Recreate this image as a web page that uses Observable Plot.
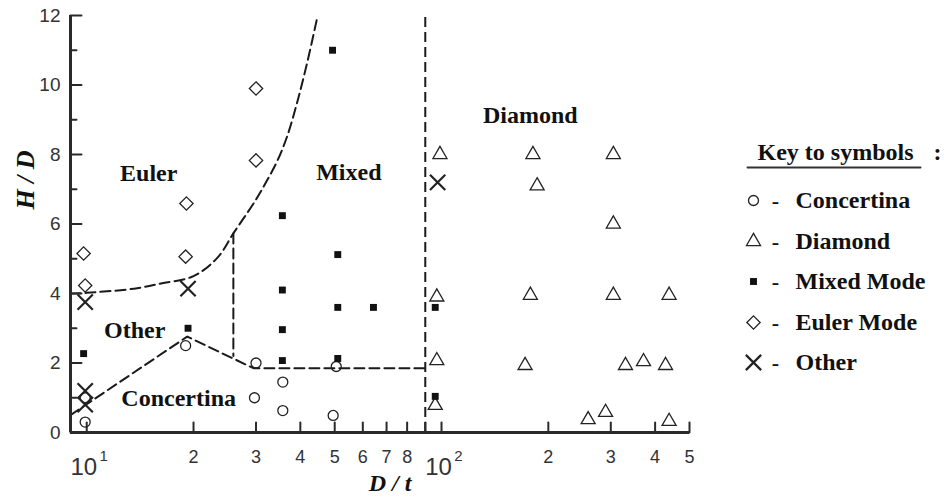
<!DOCTYPE html>
<html><head><meta charset="utf-8">
<script src="https://cdn.jsdelivr.net/npm/d3@7"></script>
<script src="https://cdn.jsdelivr.net/npm/@observablehq/plot@0.6"></script>
<style>body{margin:0;background:#fff} svg{display:block}</style>
</head><body><div id="chart"></div>
<script>
// ---- data (D/t, H/D) ----
const concertina = [[9.9,1.0],[9.9,0.3],[19.0,2.5],[30,2.0],[29.7,1.0],[35.7,1.45],[35.7,0.63],[49.5,0.49],[50.5,1.9]];
const diamondMode = [[99,8.0],[181,8.0],[305,8.0],[186,7.1],[305,6.0],[97,3.9],[178,3.95],[305,3.95],[438,3.95],
  [97,2.07],[172,1.93],[330,1.93],[371,2.04],[428,1.93],[96,0.78],[259,0.37],[290,0.58],[438,0.32]];
const mixedMode = [[49.3,11.0],[35.6,6.24],[35.6,4.1],[35.6,2.96],[35.6,2.07],[9.8,2.27],[19.3,3.0],[51,5.12],
  [51,3.6],[64.3,3.6],[51,2.13],[96,3.6],[96,1.04]];
const eulerMode = [[30,9.9],[30,7.83],[19.1,6.59],[9.8,5.15],[19,5.06],[9.9,4.23]];
const otherMode = [[9.9,3.75],[19.3,4.14],[9.9,1.2],[9.9,0.8],[97.5,7.2]];

// boundaries
const eulerBoundary = [[9,4.0],[10,4.02],[13.6,4.14],[16.2,4.29],[20,4.5],[23.4,5.04],[25.9,5.73],[29.9,6.68],[32.1,7.22],[34.5,7.83],[36.8,8.55],[39.3,9.55],[41.9,10.68],[44.7,11.97]];
const concertinaBoundary = [[9,0.5],[19.2,2.76],[29.5,1.85],[90,1.85]];
const otherBoundary = [[25.9,5.73],[25.9,2.2]];
const diamondBoundary = [90];

// region labels (data coordinates)
const regionNames = ["Euler","Mixed","Diamond","Other","Concertina"];
const regionX = [14.95,54.8,178,13.65,18.16];
const regionY = [7.45,7.48,9.12,2.94,0.98];

// axes
const yMajor = [0,2,4,6,8,10,12];
const yMinor = [1,3,5,7,9,11];
const xTicks = [10,20,30,40,50,60,70,80,90,100,200,300,400,500];
const xDigitTicks = [20,30,40,50,60,70,80,200,300,400,500];
const xDigitLabels = ["2","3","4","5","6","7","8","2","3","4","5"];
const xDecades = [10,100];
const xDecadeExp = ["1","2"];

// legend
const legendTitle = "Key to symbols";
const legendNames = ["Concertina","Diamond","Mixed Mode","Euler Mode","Other"];
const legendSymbols = ["circle","triangle","square","diamond2","times"];

const serif = "'Liberation Serif','Times New Roman',serif";
const sans = "'Liberation Sans',Arial,sans-serif";
const tickShape = {draw(ctx, l){ctx.moveTo(0,0); ctx.lineTo(0,-l);}};
const dash = "10,5";
const lineStyle = {stroke:"#1a1a1a", strokeWidth:2, strokeDasharray:dash};
const bold = {fontFamily:serif, fontWeight:"bold", fill:"#111", lineAnchor:"middle"};

const symStyle = {
  circle: {r:5, stroke:"#222", strokeWidth:1.3, fill:"none"},
  triangle: {r:5.2, stroke:"#222", strokeWidth:1.3, fill:"none"},
  square: {r:3.9, fill:"#111", stroke:"none"},
  diamond2: {r:6, stroke:"#222", strokeWidth:1.3, fill:"none"},
  times: {r:7, stroke:"#222", strokeWidth:2.2, fill:"none"}
};

const legendRowDy = [185,226,266,307,347];
const legendMarks = [];
legendNames.forEach((name, i) => {
  const s = legendSymbols[i];
  legendMarks.push(Plot.dot([0], {frameAnchor:"top-right", dx:64, dy:legendRowDy[i], symbol:s, ...symStyle[s]}));
  legendMarks.push(Plot.text(["-"], {frameAnchor:"top-right", dx:86, dy:legendRowDy[i], text:d=>d, textAnchor:"middle", ...bold, fontSize:22}));
  legendMarks.push(Plot.text([name], {frameAnchor:"top-right", dx:106, dy:legendRowDy[i], text:d=>d, textAnchor:"start", ...bold, fontSize:24}));
});

const plot = Plot.plot({
  width: 944, height: 499,
  marginLeft: 70, marginRight: 255, marginTop: 15, marginBottom: 67,
  x: {type:"log", domain:[9,500], axis:null},
  y: {domain:[0,12], axis:null},
  style: {fontFamily: sans, background:"#fff", color:"#111", overflow:"visible"},
  marks: [
    // boundaries
    Plot.line(eulerBoundary, {...lineStyle, curve:"catmull-rom"}),
    Plot.line(concertinaBoundary, {...lineStyle}),
    Plot.line(otherBoundary, {...lineStyle}),
    Plot.ruleX(diamondBoundary, {...lineStyle, y1:0, y2:12}),
    // axes lines
    Plot.ruleX([9], {stroke:"#2a2a2a", strokeWidth:3}),
    Plot.ruleY([0], {stroke:"#2a2a2a", strokeWidth:3}),
    // ticks (inward)
    Plot.vector(yMajor, {y:d=>d, frameAnchor:"left", length:11, rotate:90, anchor:"start", shape:tickShape, stroke:"#2a2a2a", strokeWidth:2}),
    Plot.vector(yMinor, {y:d=>d, frameAnchor:"left", length:6, rotate:90, anchor:"start", shape:tickShape, stroke:"#2a2a2a", strokeWidth:2}),
    Plot.vector(xTicks, {x:d=>d, frameAnchor:"bottom", length:10, anchor:"start", shape:tickShape, stroke:"#2a2a2a", strokeWidth:2}),
    // tick labels
    Plot.text(yMajor, {y:d=>d, frameAnchor:"left", dx:-10, textAnchor:"end", lineAnchor:"middle", text:d=>String(d), fontSize:19, fill:"#333"}),
    Plot.text(xDigitTicks, {x:d=>d, frameAnchor:"bottom", dy:25, lineAnchor:"middle", text:(d,i)=>xDigitLabels[i], fontSize:18, fill:"#333"}),
    Plot.text(xDecades, {x:d=>d, frameAnchor:"bottom", dy:35, dx:-3, lineAnchor:"middle", text:()=>"10", fontSize:24, fill:"#333"}),
    Plot.text(xDecades, {x:d=>d, frameAnchor:"bottom", dy:24, dx:17, lineAnchor:"middle", text:(d,i)=>xDecadeExp[i], fontSize:15, fill:"#333"}),
    // axis titles
    Plot.text(["H / D"], {frameAnchor:"left", dx:-45, dy:-44, rotate:-90, textAnchor:"middle", text:d=>d, ...bold, fontStyle:"italic", fontSize:26}),
    Plot.text(["D / t"], {frameAnchor:"bottom", dx:10, dy:51, textAnchor:"middle", text:d=>d, ...bold, fontStyle:"italic", fontSize:24}),
    // region labels
    Plot.text(regionNames, {x:(d,i)=>regionX[i], y:(d,i)=>regionY[i], text:d=>d, ...bold, fontSize:24}),
    // data points
    Plot.dot(concertina, {symbol:"circle", ...symStyle.circle}),
    Plot.dot(diamondMode, {symbol:"triangle", ...symStyle.triangle}),
    Plot.dot(eulerMode, {symbol:"diamond2", ...symStyle.diamond2}),
    Plot.dot(mixedMode, {symbol:"square", ...symStyle.square}),
    Plot.dot(otherMode, {symbol:"times", ...symStyle.times}),
    // legend
    Plot.text([legendTitle], {frameAnchor:"top-right", dx:68, dy:137, textAnchor:"start", text:d=>d, ...bold, fontSize:24}),
    Plot.text([":"], {frameAnchor:"top-right", dx:248, dy:137, textAnchor:"middle", text:d=>d, ...bold, fontSize:24}),
    Plot.vector([0], {frameAnchor:"top-right", dx:58, dy:152, length:173, rotate:90, anchor:"start", shape:tickShape, stroke:"#333", strokeWidth:2}),
    ...legendMarks
  ]
});
document.getElementById("chart").appendChild(plot);
</script>
</body></html>
